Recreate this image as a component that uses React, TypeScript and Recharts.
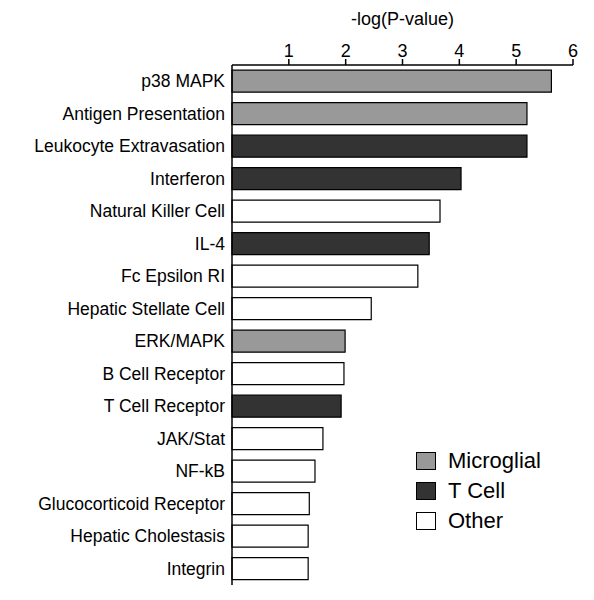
import { BarChart, Bar, XAxis, YAxis, Cell } from "recharts";

const pathways = [
  "p38 MAPK", "Antigen Presentation", "Leukocyte Extravasation", "Interferon",
  "Natural Killer Cell", "IL-4", "Fc Epsilon RI", "Hepatic Stellate Cell",
  "ERK/MAPK", "B Cell Receptor", "T Cell Receptor", "JAK/Stat", "NF-kB",
  "Glucocorticoid Receptor", "Hepatic Cholestasis", "Integrin",
];
const scores = [5.62, 5.19, 5.19, 4.03, 3.66, 3.47, 3.27, 2.45, 1.99, 1.97, 1.92, 1.6, 1.46, 1.36, 1.34, 1.34];
const groups = ["Microglial", "Microglial", "T Cell", "T Cell", "Other", "T Cell", "Other", "Other",
  "Microglial", "Other", "T Cell", "Other", "Other", "Other", "Other", "Other"];
const xTicks = [1, 2, 3, 4, 5, 6];

const groupColor: Record<string, string> = { Microglial: "#999999", "T Cell": "#333333", Other: "#ffffff" };
const legendItems = ["Microglial", "T Cell", "Other"];

const data = pathways.map((name, i) => ({ name, value: scores[i], group: groups[i] }));
const font = "'Liberation Sans', Arial, sans-serif";

export default function App() {
  return (
    <div style={{ position: "absolute", left: 0, top: 0, width: 594, height: 600, background: "#fff", fontFamily: font }}>
      <div style={{ position: "absolute", left: 232, width: 341, top: 9, textAlign: "center", fontSize: 18 }}>
        -log(P-value)
      </div>
      <BarChart
        width={594}
        height={600}
        data={data}
        layout="vertical"
        margin={{ top: 35, right: 21, left: 0, bottom: 15 }}
        barCategoryGap="16%"
      >
        <XAxis
          type="number"
          orientation="top"
          domain={[0, 6]}
          ticks={xTicks}
          height={30}
          stroke="#000"
          tick={{ fill: "#000", fontSize: 18, fontFamily: font }}
          tickSize={6}
          strokeWidth={1.5}
        />
        <YAxis
          type="category"
          dataKey="name"
          width={232}
          stroke="#000"
          strokeWidth={1.5}
          tickLine={false}
          tick={{ fill: "#000", fontSize: 17.5, fontFamily: font }}
          tickMargin={1}
          interval={0}
        />
        <Bar dataKey="value" stroke="#000" strokeWidth={1.2} isAnimationActive={false}>
          {data.map((d, i) => (
            <Cell key={i} fill={groupColor[d.group]} />
          ))}
        </Bar>
      </BarChart>
      <div style={{ position: "absolute", left: 416, top: 446, fontSize: 22 }}>
        {legendItems.map((g) => (
          <div key={g} style={{ display: "flex", alignItems: "center", height: 30 }}>
            <span style={{ width: 20, height: 18, background: groupColor[g], border: "1.5px solid #000", marginRight: 12, boxSizing: "border-box" }} />
            {g}
          </div>
        ))}
      </div>
    </div>
  );
}
